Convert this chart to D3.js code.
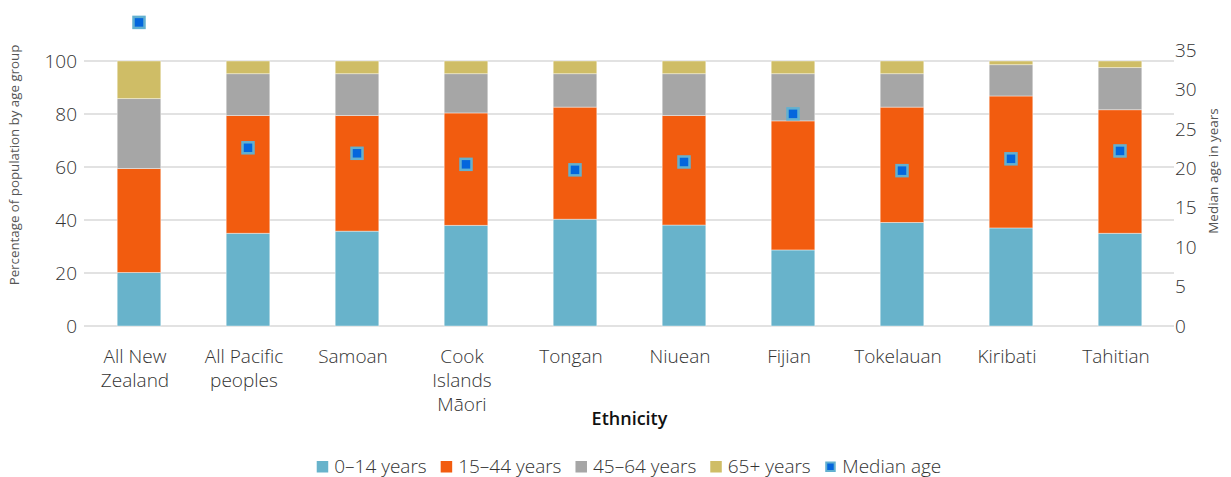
<!DOCTYPE html>
<html>
<head>
<meta charset="utf-8">
<script src="https://cdn.jsdelivr.net/npm/d3@7"></script>
<style>
  html, body { margin: 0; padding: 0; background: #fff; }
  svg { display: block; font-family: "Open Sans", "Noto Sans", sans-serif; }
</style>
</head>
<body>
<svg id="chart" width="1231" height="477"></svg>
<script>
// ---- data ----
const categories = ["All New Zealand", "All Pacific peoples", "Samoan", "Cook Islands Māori",
  "Tongan", "Niuean", "Fijian", "Tokelauan", "Kiribati", "Tahitian"];
const categoryLines = [["All New", "Zealand"], ["All Pacific", "peoples"], ["Samoan"],
  ["Cook", "Islands", "Māori"], ["Tongan"], ["Niuean"], ["Fijian"], ["Tokelauan"], ["Kiribati"], ["Tahitian"]];
const seriesNames = ["0–14 years", "15–44 years", "45–64 years", "65+ years"];
const age0_14  = [20.2, 35.0, 35.8, 38.0, 40.3, 38.1, 28.7, 39.1, 37.0, 35.0];
const age15_44 = [39.2, 44.4, 43.6, 42.4, 42.3, 41.3, 48.7, 43.5, 49.8, 46.6];
const age45_64 = [26.4, 15.8, 15.8, 14.8, 12.6, 15.8, 17.8, 12.6, 11.8, 15.9];
const age65    = [14.2, 4.8, 4.8, 4.8, 4.8, 4.8, 4.8, 4.8, 1.4, 2.5];
const medianAge = [38.5, 22.6, 21.9, 20.5, 19.8, 20.8, 26.9, 19.7, 21.2, 22.2];
const leftTicks = [0, 20, 40, 60, 80, 100];
const rightTicks = [0, 5, 10, 15, 20, 25, 30, 35];
const medianName = "Median age";

// ---- styles ----
const colors = ["#68b3cb", "#f25c0f", "#a6a6a6", "#cfbd66"];
const markerFill = "#0466dd", markerStroke = "#62b0d0";
const textColor = "#333";

const svg = d3.select("#chart");
const x = d3.scaleBand().domain(categories).range([84.5, 1174.5]).paddingInner(0.6).paddingOuter(0.3);
const yL = d3.scaleLinear().domain([0, 100]).range([326, 61]);
const yR = d3.scaleLinear().domain([0, 35]).range([326, 50]);

// gridlines
svg.append("g").selectAll("line").data(leftTicks).join("line")
  .attr("x1", 84).attr("x2", 1174)
  .attr("y1", d => yL(d)).attr("y2", d => yL(d))
  .attr("stroke", "#d9d9d9").attr("stroke-width", 1.5);

// left axis labels
svg.append("g").selectAll("text").data(leftTicks).join("text")
  .attr("x", 77).attr("y", d => yL(d)).attr("dy", "0.35em")
  .attr("text-anchor", "end").attr("font-size", 19).attr("font-weight", 300)
  .attr("fill", textColor).text(d => d);

// right axis labels
svg.append("g").selectAll("text").data(rightTicks).join("text")
  .attr("x", 1175).attr("y", d => yR(d)).attr("dy", "0.35em")
  .attr("text-anchor", "start").attr("font-size", 19).attr("font-weight", 300)
  .attr("fill", textColor).text(d => d);

// stacked bars
const rows = categories.map((c, i) => ({ cat: c, s0: age0_14[i], s1: age15_44[i], s2: age45_64[i], s3: age65[i] }));
const stack = d3.stack().keys(["s0", "s1", "s2", "s3"])(rows);
svg.append("g").selectAll("g").data(stack).join("g")
  .attr("fill", (d, i) => colors[i])
  .selectAll("rect").data(d => d).join("rect")
  .attr("x", d => x(d.data.cat)).attr("width", x.bandwidth())
  .attr("y", d => yL(d[1])).attr("height", d => yL(d[0]) - yL(d[1]))
  .attr("stroke", "#ffffff").attr("stroke-opacity", 0.5).attr("stroke-width", 0.8);

// median markers
const ms = 11;
svg.append("g").selectAll("rect").data(medianAge).join("rect")
  .attr("x", (d, i) => x(categories[i]) + x.bandwidth() / 2 - ms / 2)
  .attr("y", d => yR(d) - ms / 2)
  .attr("width", ms).attr("height", ms)
  .attr("fill", markerFill).attr("stroke", markerStroke).attr("stroke-width", 2.5);

// category labels
const catG = svg.append("g");
categories.forEach((c, i) => {
  const t = catG.append("text").attr("text-anchor", "middle").attr("font-size", 19)
    .attr("font-weight", 300).attr("fill", textColor);
  categoryLines[i].forEach((ln, j) => {
    t.append("tspan").attr("x", x(c) + x.bandwidth() / 2 - 4).attr("y", 363 + j * 24).text(ln);
  });
});

// axis titles
svg.append("text").attr("x", 629.5).attr("y", 425).attr("text-anchor", "middle")
  .attr("font-size", 18).attr("font-weight", 600).attr("fill", "#111").text("Ethnicity");
svg.append("text").attr("transform", "translate(19,165) rotate(-90)").attr("text-anchor", "middle")
  .attr("font-size", 13.3).attr("fill", "#555").text("Percentage of population by age group");
svg.append("text").attr("transform", "translate(1218,171) rotate(-90)").attr("text-anchor", "middle")
  .attr("font-size", 13.5).attr("fill", "#555").text("Median age in years");

// legend
const leg = svg.append("g");
const items = seriesNames.map((n, i) => ({ name: n, type: "bar", color: colors[i] }))
  .concat([{ name: medianName, type: "marker" }]);
let cx = 0;
const sq = 11.5, gap = 6, itemGap = 14;
items.forEach(it => {
  const g = leg.append("g").attr("transform", `translate(${cx},0)`);
  if (it.type === "bar") {
    g.append("rect").attr("x", 0).attr("y", 461).attr("width", sq).attr("height", sq).attr("fill", it.color);
  } else {
    g.append("rect").attr("x", 1.5).attr("y", 462.5).attr("width", 8.5).attr("height", 8.5)
      .attr("fill", markerFill).attr("stroke", markerStroke).attr("stroke-width", 2);
  }
  const t = g.append("text").attr("x", sq + gap).attr("y", 472.5).attr("font-size", 19)
    .attr("font-weight", 300).attr("fill", textColor).text(it.name);
  cx += sq + gap + t.node().getComputedTextLength() + itemGap;
});
const legW = cx - itemGap;
leg.attr("transform", `translate(${629 - legW / 2},0)`);
</script>
</body>
</html>
